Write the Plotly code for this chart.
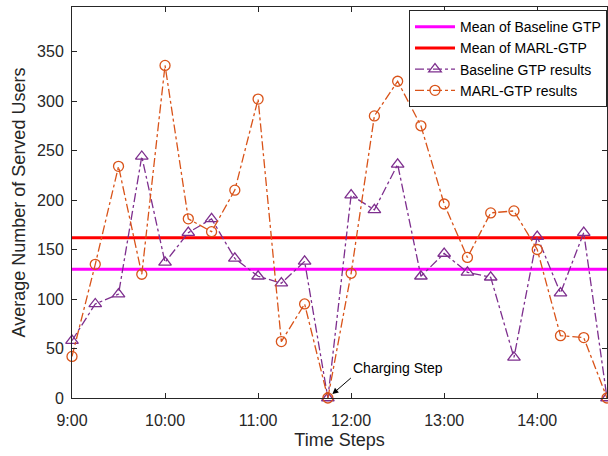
import plotly.graph_objects as go

time_labels = ["9:00", "9:15", "9:30", "9:45", "10:00", "10:15", "10:30", "10:45",
               "11:00", "11:15", "11:30", "11:45", "12:00", "12:15", "12:30", "12:45",
               "13:00", "13:15", "13:30", "13:45", "14:00", "14:15", "14:30", "14:45"]
baseline_gtp = [58, 95, 105, 244, 137, 167, 181, 141, 123, 116, 138, 0,
                205, 190, 236, 123, 146, 127, 122, 41, 163, 106, 167, 0]
marl_gtp = [42, 135, 234, 125, 336, 181, 168, 210, 302, 57, 95, 0,
            126, 285, 320, 275, 196, 142, 187, 189, 150, 63, 61, 0]
mean_baseline = 130
mean_marl = 162
tick_labels = ["9:00", "10:00", "11:00", "12:00", "13:00", "14:00"]
y_ticks = [0, 50, 100, 150, 200, 250, 300, 350]


def to_hours(s):
    h, m = s.split(":")
    return int(h) + int(m) / 60.0


x = [to_hours(t) for t in time_labels]
tick_vals = [to_hours(t) for t in tick_labels]
x_span = [x[0], x[-1]]

FONT = "Liberation Sans, Arial, sans-serif"
AX = "#262626"

fig = go.Figure()
fig.add_trace(go.Scatter(x=x_span, y=[mean_baseline] * 2, mode="lines",
                         name="Mean of Baseline GTP",
                         line=dict(color="#FF00FF", width=3)))
fig.add_trace(go.Scatter(x=x_span, y=[mean_marl] * 2, mode="lines",
                         name="Mean of MARL-GTP",
                         line=dict(color="#FF0000", width=3)))
fig.add_trace(go.Scatter(x=x, y=baseline_gtp, mode="lines+markers",
                         name="Baseline GTP results", cliponaxis=False,
                         line=dict(color="#7E2F8E", width=1.3, dash="dashdot"),
                         marker=dict(symbol="triangle-up-open", size=11,
                                     color="#7E2F8E", line=dict(width=1.3))))
fig.add_trace(go.Scatter(x=x, y=marl_gtp, mode="lines+markers",
                         name="MARL-GTP results", cliponaxis=False,
                         line=dict(color="#D95319", width=1.3, dash="dashdot"),
                         marker=dict(symbol="circle-open", size=10,
                                     color="#D95319", line=dict(width=1.3))))

fig.add_annotation(x=to_hours("11:45"), y=0, xref="x", yref="y",
                   text="Charging Step", showarrow=True,
                   ax=23, ay=-20, xanchor="left", yanchor="bottom",
                   arrowhead=2, arrowsize=1.2, arrowwidth=1, arrowcolor="black",
                   standoff=6, font=dict(family=FONT, size=14, color="black"))

fig.update_layout(
    width=608, height=456,
    margin=dict(l=72, r=1, t=7, b=58),
    paper_bgcolor="white", plot_bgcolor="white",
    font=dict(family=FONT, size=16, color=AX),
    showlegend=True,
    legend=dict(x=1.0, xanchor="right", y=0.992, yanchor="top",
                bgcolor="white", bordercolor=AX, borderwidth=1,
                font=dict(family=FONT, size=14, color="black"),
                tracegroupgap=0, itemwidth=40),
    xaxis=dict(range=[x[0], x[-1]], tickvals=tick_vals, ticktext=tick_labels,
               showgrid=False, zeroline=False, showline=True, linecolor=AX,
               linewidth=1, mirror="ticks", ticks="inside", ticklen=5,
               tickcolor=AX, tickfont=dict(size=16, color=AX), ticklabelstandoff=8,
               title=dict(text="Time Steps", font=dict(size=18, color=AX), standoff=5)),
    yaxis=dict(range=[0, 395], tickvals=y_ticks,
               showgrid=False, zeroline=False, showline=True, linecolor=AX,
               linewidth=1, mirror="ticks", ticks="inside", ticklen=5,
               tickcolor=AX, tickfont=dict(size=16, color=AX), ticklabelstandoff=4,
               title=dict(text="Average Number of Served Users",
                          font=dict(size=18, color=AX), standoff=6)),
)

fig.write_html("out.html")
